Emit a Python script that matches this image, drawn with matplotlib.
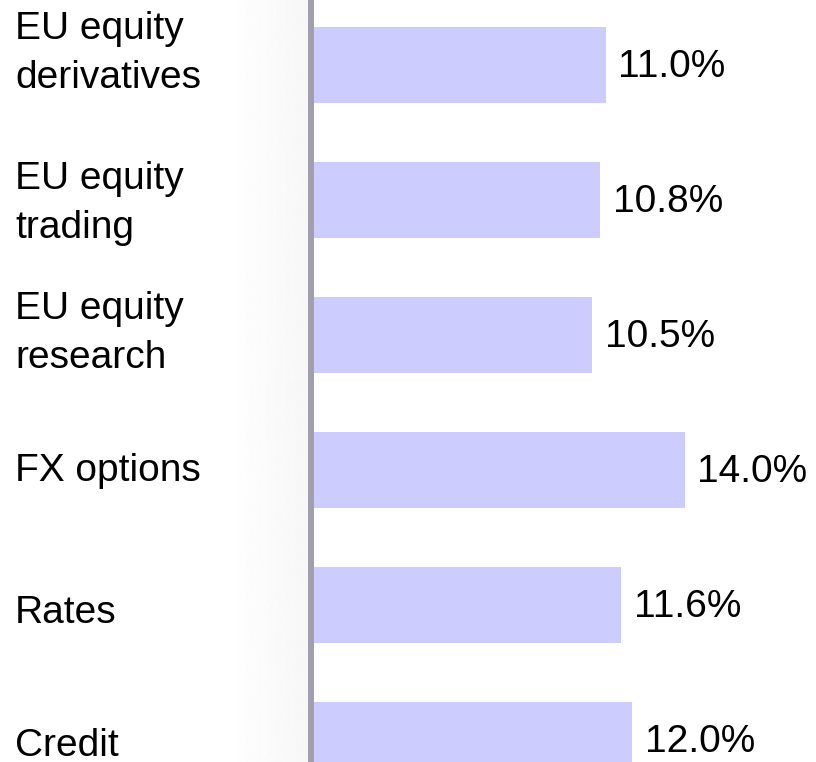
import numpy as np
import matplotlib
matplotlib.use("Agg")
import matplotlib.pyplot as plt
from matplotlib.lines import Line2D

plt.rcParams["font.family"] = ["Liberation Sans", "DejaVu Sans"]

# data
categories = [
    "EU equity\nderivatives",
    "EU equity\ntrading",
    "EU equity\nresearch",
    "FX options",
    "Rates",
    "Credit",
]
values = [11.0, 10.8, 10.5, 14.0, 11.6, 12.0]

W, H, DPI = 816, 762, 100
BAR_COLOR = "#CCCCFF"
AXIS_COLOR = "#A19FAF"
FONT_SIZE = 28
PT = 72 / DPI                      # points per pixel
CAP = 0.716 * FONT_SIZE / PT       # cap height in pixels
LINE_PITCH = 49                    # px between baselines of wrapped labels
# small per-label vertical nudges (px, + = down) to match the source layout
label_nudge = [-15, 0, -5, -3, 4, 2]

fig = plt.figure(figsize=(W / DPI, H / DPI), dpi=DPI)
fig.patch.set_facecolor("white")

# soft grey shading left of the axis line
grad_ax = fig.add_axes([227 / W, 0, 81 / W, 1])
grad = np.linspace(1.0, 0.968, 256).reshape(1, -1)
grad_ax.imshow(grad, cmap="gray", vmin=0, vmax=1, aspect="auto",
               extent=(0, 1, 0, 1))
grad_ax.axis("off")

ax = fig.add_axes([314 / W, 0, 1 - 314 / W, 1])
ax.set_facecolor("none")
y = np.arange(len(categories))
ax.barh(y, values, height=0.556, color=BAR_COLOR, edgecolor="none")

px_per_unit = 26.5
ax.set_xlim(0, (W - 314) / px_per_unit)
ax.set_ylim(len(categories) - 1 + 22 / 135, -65 / 135)
ax.axis("off")

# value labels, baseline placed so digits sit just above the bar centre
for yi, v in zip(y, values):
    ax.annotate(f"{v:.1f}%", (v, yi), xytext=(9, -(CAP / 2 - 2) * PT),
                textcoords="offset points", va="baseline", ha="left",
                fontsize=FONT_SIZE, color="black")

# category labels, block of lines centred on the bar
# (va="baseline" pins the last line's baseline)
for yi, name, nudge in zip(y, categories, label_nudge):
    n = name.count("\n") + 1
    block = CAP + (n - 1) * LINE_PITCH
    last_base = block / 2 + nudge             # px below bar centre
    ax.annotate(name, (15 / W, yi), xycoords=("figure fraction", "data"),
                xytext=(0, -last_base * PT), textcoords="offset points",
                ha="left", va="baseline", fontsize=FONT_SIZE, color="black",
                linespacing=1.47, annotation_clip=False)

# vertical axis line
fig.add_artist(Line2D([311 / W, 311 / W], [0, 1], transform=fig.transFigure,
                      color=AXIS_COLOR, linewidth=6 * PT,
                      solid_capstyle="butt"))

fig.savefig("out.png", dpi=DPI)
